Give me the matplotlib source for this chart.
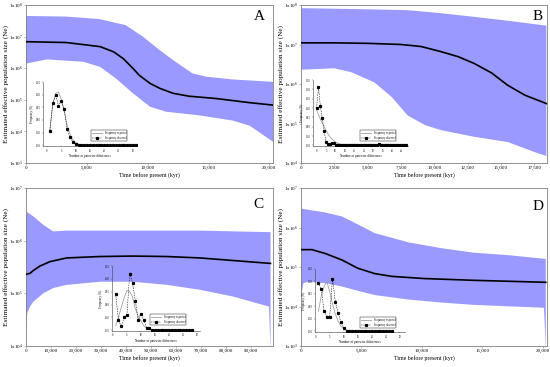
import numpy as np
import matplotlib
matplotlib.use('Agg')
import matplotlib.pyplot as plt
from matplotlib.ticker import FixedLocator, FuncFormatter, MultipleLocator, NullLocator
from matplotlib.lines import Line2D

plt.rcParams['font.family'] = ['Liberation Serif', 'DejaVu Serif']
plt.rcParams['mathtext.fontset'] = 'custom'
plt.rcParams['mathtext.rm'] = 'Liberation Serif'
plt.rcParams['mathtext.it'] = 'Liberation Serif:italic'
plt.rcParams['mathtext.bf'] = 'Liberation Serif:bold'

# ---------------- Skyline data (time in kyr, Ne) ----------------
A_med_t = [0, 3300, 4700, 6100, 7200, 8000, 8800, 9300, 10200, 11000, 12100, 13400, 15600, 18400, 20300]
A_med = [6.9e6, 6.5e6, 5.6e6, 4.8e6, 3.3e6, 2.0e6, 9.8e5, 6.0e5, 3.3e5, 2.3e5, 1.6e5, 1.3e5, 1.1e5, 8.1e4, 6.8e4]
A_up_t = [0, 3300, 6000, 8200, 9600, 11000, 12100, 12900, 13700, 14800, 17000, 20300]
A_up = [4.5e7, 4.3e7, 3.6e7, 2.3e7, 1.0e7, 3.7e6, 1.8e6, 1.1e6, 6.8e5, 5.4e5, 4.4e5, 3.7e5]
A_lo_t = [0, 1700, 4700, 6100, 7400, 8800, 10200, 11500, 14300, 17000, 18400, 20300]
A_lo = [1.4e6, 1.9e6, 1.6e6, 1.1e6, 4.7e5, 1.6e5, 6.0e4, 4.2e4, 3.2e4, 2.2e4, 1.5e4, 4.7e3]

B_med_t = [0, 2500, 5000, 7500, 9000, 10500, 11800, 13000, 14300, 15500, 16800, 18400]
B_med = [1.1e7, 1.1e7, 1.07e7, 1.0e7, 8.9e6, 6.6e6, 4.9e6, 3.3e6, 1.9e6, 9.3e5, 5.2e5, 3.2e5]
B_up_t = [0, 4000, 8000, 10500, 13000, 15500, 18400]
B_up = [8.3e7, 7.9e7, 7.4e7, 6.2e7, 5.0e7, 4.0e7, 3.0e7]
B_lo_t = [0, 2500, 3750, 5500, 6800, 8000, 9300, 10500, 13000, 15500, 17500, 18400]
B_lo = [2.3e6, 2.5e6, 2.0e6, 1.1e6, 4.7e5, 1.6e5, 9.1e4, 6.8e4, 4.6e4, 3.4e4, 1.9e4, 1.5e4]

C_med_t = [0, 1600, 2900, 5600, 9600, 16300, 29600, 42900, 56300, 69600, 82900, 97900]
C_med = [2.3e5, 2.4e5, 2.7e5, 3.3e5, 4.0e5, 4.7e5, 5.0e5, 5.1e5, 5.0e5, 4.7e5, 4.2e5, 3.7e5]
C_up_t = [0, 2900, 6900, 10900, 16300, 42900, 69600, 97900]
C_up = [3.6e6, 2.9e6, 2.0e6, 1.5e6, 1.55e6, 1.55e6, 1.55e6, 1.45e6]
C_lo_t = [0, 500, 1600, 2900, 6900, 10900, 16300, 29600, 42900, 56300, 69600, 82900, 97300, 97900]
C_lo = [2.0e4, 4.2e4, 5.6e4, 6.9e4, 1.0e5, 1.26e5, 1.45e5, 1.66e5, 1.66e5, 1.45e5, 1.17e5, 8.7e4, 5.6e4, 8e3]

D_med_t = [0, 900, 2000, 3400, 4700, 6100, 7500, 10200, 14300, 20250]
D_med = [2.75e5, 2.75e5, 2.2e5, 1.5e5, 9.3e4, 6.8e4, 5.8e4, 5.1e4, 4.6e4, 4.1e4]
D_up_t = [0, 2000, 3400, 4700, 6100, 8900, 11600, 14300, 17100, 20250]
D_up = [3.0e6, 2.4e6, 1.9e6, 1.2e6, 7.2e5, 4.2e5, 3.0e5, 2.3e5, 2.0e5, 1.6e5]
D_lo_t = [0, 200, 600, 2000, 3400, 4700, 6100, 8900, 11600, 14300, 20100, 20250]
D_lo = [1.8e4, 3.9e4, 4.2e4, 3.9e4, 3.2e4, 2.5e4, 1.95e4, 1.5e4, 1.26e4, 1.1e4, 9.3e3, 8e2]

# ---------------- Mismatch distributions ----------------
A_diff = list(range(1, 32))
A_obs = [0.058, 0.168, 0.198, 0.157, 0.175, 0.142, 0.065, 0.032, 0.013, 0.003] + [0.0] * 21
A_exp = [0.06, 0.16, 0.205, 0.21, 0.18, 0.135, 0.08, 0.045, 0.022, 0.01, 0.004] + [0.0] * 20

B_diff = list(range(0, 48))
B_obs = ([0.20, 0.31, 0.21, 0.145, 0.075, 0.02, 0.01, 0.01, 0.012, 0.012, 0.005] + [0.0] * 21
         + [0.005, 0.01, 0.005] + [0.0] * 13)
B_exp = ([0.19, 0.165, 0.14, 0.12, 0.10, 0.08, 0.062, 0.048, 0.036, 0.026, 0.018, 0.013,
          0.009, 0.006, 0.004, 0.002] + [0.0] * 32)

C_diff = list(range(1, 29))
C_obs = [0.142, 0.04, 0.015, 0.05, 0.06, 0.22, 0.185, 0.115, 0.04, 0.065, 0.04, 0.01, 0.008] + [0.0] * 15
C_exp = [0.017, 0.05, 0.09, 0.125, 0.155, 0.15, 0.13, 0.083, 0.055, 0.037, 0.017, 0.008, 0.004] + [0.0] * 15

D_diff = list(range(1, 28))
D_obs = [0.195, 0.17, 0.082, 0.058, 0.058, 0.21, 0.118, 0.072, 0.036, 0.014, 0.003] + [0.0] * 16
D_exp = [0.08, 0.14, 0.18, 0.198, 0.16, 0.11, 0.07, 0.04, 0.02, 0.01, 0.004] + [0.0] * 16

W, H = 550, 367
fig = plt.figure(figsize=(5.5, 3.67), dpi=100)
BAND = '#9999ff'
SPINE = '#808080'


def box(l, t, r, b):
    return [l / W, 1 - b / H, (r - l) / W, (b - t) / H]


def comma(v, pos):
    return '0' if v == 0 else '{:,.0f}'.format(v)


def main_panel(rect, letter, letter_xy, xmax, xstep, ylo, yhi,
               ut, uv, lt, lv, mt, mv):
    ax = fig.add_axes(box(*rect))
    ax.set_yscale('log')
    ax.fill(np.concatenate([ut, lt[::-1]]), np.concatenate([uv, lv[::-1]]),
            color=BAND, lw=0, zorder=1)
    ax.plot(mt, mv, color='black', lw=1.2, zorder=3)
    ax.set_xlim(0, xmax)
    ax.set_ylim(10.0 ** ylo, 10.0 ** yhi)
    decs = list(range(ylo, yhi + 1))
    ax.yaxis.set_major_locator(FixedLocator([10.0 ** d for d in decs]))
    ax.yaxis.set_minor_locator(NullLocator())
    ax.set_yticklabels([r'1x10$^{%d}$' % d for d in decs])
    ax.xaxis.set_major_locator(MultipleLocator(xstep))
    ax.xaxis.set_minor_locator(MultipleLocator(xstep / 2))
    ax.xaxis.set_major_formatter(FuncFormatter(comma))
    ax.tick_params(axis='both', which='major', labelsize=3.6, length=1.6, width=0.4,
                   color=SPINE, pad=0.8)
    ax.tick_params(axis='both', which='minor', length=1.0, width=0.3, color=SPINE)
    for s in ax.spines.values():
        s.set_color(SPINE)
        s.set_linewidth(0.6)
    ax.set_xlabel('Time before present (kyr)', fontsize=4.2, labelpad=1.5)
    ax.set_ylabel('Estimated effective population size (Ne)', fontsize=5.2)
    ax.yaxis.set_label_coords(-16.5 / (rect[2] - rect[0]), 0.5)
    fig.text(letter_xy[0] / W, 1 - letter_xy[1] / H, letter, fontsize=11,
             ha='center', va='center')
    return ax


def inset(rect, xlim, ymax, diff, obs, exp, leg_rect):
    ax = fig.add_axes(box(*rect))
    ax.patch.set_alpha(0)
    ax.plot(diff, exp, color='#a0a0a0', lw=0.6, zorder=2)
    ax.plot(diff, obs, color='black', lw=0.35, ls=(0, (3, 2)), marker='s',
            ms=1.3, mec='black', mfc='black', zorder=3)
    ax.set_xlim(*xlim)
    ax.set_ylim(-0.003, ymax)
    ax.yaxis.set_major_locator(MultipleLocator(0.05))
    ax.yaxis.set_major_formatter(FuncFormatter(lambda v, p: '%.2f' % v))
    ax.xaxis.set_major_locator(MultipleLocator(5))
    ax.tick_params(axis='both', labelsize=2.0, length=1.0, width=0.3, pad=0.8,
                   color='#404040')
    for s in ['top', 'right']:
        ax.spines[s].set_visible(False)
    for s in ['left', 'bottom']:
        ax.spines[s].set_linewidth(0.4)
        ax.spines[s].set_color('#404040')
    ax.set_xlabel('Number of pairwise differences', fontsize=2.3, labelpad=1.2)
    ax.set_ylabel('Frequency (%)', fontsize=2.2, labelpad=1.2)
    handles = [Line2D([], [], color='#a0a0a0', lw=0.6),
               Line2D([], [], color='black', lw=0.35, ls=(0, (3, 2)), marker='s', ms=1.3)]
    leg = ax.legend(handles, ['Frequency expected', 'Frequency observed'],
                    loc='upper left', bbox_to_anchor=(leg_rect[0] / W, 1 - leg_rect[1] / H),
                    bbox_transform=fig.transFigure, fontsize=1.9, frameon=True,
                    fancybox=False, edgecolor='black', framealpha=1,
                    handlelength=4, borderpad=0.35, labelspacing=0.25,
                    handletextpad=0.8, borderaxespad=0)
    leg.get_frame().set_linewidth(0.3)
    return ax


main_panel((26, 5, 273, 163), 'A', (259, 17), 20300, 5000, 3, 8,
           np.array(A_up_t), np.array(A_up), np.array(A_lo_t), np.array(A_lo), A_med_t, A_med)
main_panel((301, 5, 547, 163), 'B', (538, 17), 18450, 2500, 4, 8,
           np.array(B_up_t), np.array(B_up), np.array(B_lo_t), np.array(B_lo), B_med_t, B_med)
main_panel((26, 188, 273, 346), 'C', (258, 205), 98900, 10000, 4, 7,
           np.array(C_up_t), np.array(C_up), np.array(C_lo_t), np.array(C_lo), C_med_t, C_med)
main_panel((301, 188, 547, 346), 'D', (538, 206), 20350, 5000, 3, 7,
           np.array(D_up_t), np.array(D_up), np.array(D_lo_t), np.array(D_lo), D_med_t, D_med)

inset((43, 82, 137, 146), (-1.4, 31.4), 0.25, A_diff, A_obs, A_exp, (91, 130))
inset((313, 80, 408, 146), (-1.9, 48.3), 0.35, B_diff, B_obs, B_exp, (360, 130))
inset((112, 266, 200, 331), (-0.3, 31), 0.25, C_diff, C_obs, C_exp, (150, 314))
inset((315, 269, 405, 332), (-0.2, 31.7), 0.25, D_diff, D_obs, D_exp, (360, 317))

fig.savefig('out.png', dpi=100)
